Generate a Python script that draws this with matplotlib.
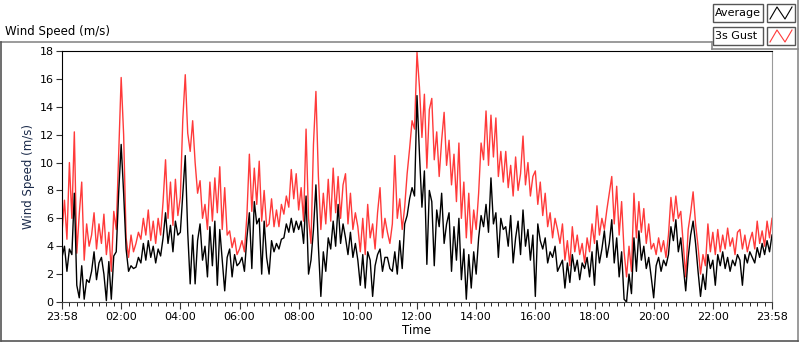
import numpy as np
import matplotlib
matplotlib.use("Agg")
import matplotlib.pyplot as plt
from matplotlib.lines import Line2D
from matplotlib.patches import Rectangle

# 5-minute readings, one row per hour (last row has the closing value)
gust = [
    5.0, 7.3, 4.5, 10.0, 6.0, 12.2, 3.5, 6.3, 8.6, 3.0, 5.6, 4.0,
    4.8, 6.4, 3.8, 5.6, 4.2, 6.3, 3.4, 5.0, 2.2, 6.5, 5.2, 10.6,
    16.1, 12.0, 4.6, 3.2, 4.8, 3.6, 4.2, 5.0, 4.5, 6.0, 4.8, 6.6,
    4.4, 5.8, 4.2, 6.0, 4.8, 7.2, 10.2, 6.0, 8.6, 5.5, 8.8, 6.2,
    7.5, 13.1, 16.3, 12.1, 10.8, 13.0, 10.0, 7.8, 8.7, 6.0, 7.0, 5.2,
    8.6, 5.8, 8.9, 6.4, 9.7, 5.2, 8.2, 4.8, 5.1, 3.9, 4.6, 3.4,
    3.8, 4.4, 3.6, 6.2, 10.6, 6.5, 9.6, 7.0, 10.1, 5.8, 8.0, 5.4,
    5.6, 7.4, 5.4, 6.6, 5.4, 7.0, 6.3, 7.6, 6.8, 9.5, 7.4, 9.2,
    6.6, 8.2, 5.8, 12.4, 6.0, 4.2, 11.3, 15.1, 9.0, 5.2, 7.8, 5.6,
    8.8, 5.8, 9.6, 6.4, 9.0, 6.0, 8.4, 9.2, 5.6, 7.8, 5.2, 6.4,
    5.4, 3.6, 6.0, 3.4, 7.0, 4.6, 5.6, 3.8, 6.4, 8.2, 4.6, 6.0,
    5.0, 4.2, 5.6, 10.5, 6.0, 7.4, 5.2, 6.8, 9.2, 11.0, 13.0, 12.4,
    17.9, 15.4, 11.8, 14.9, 9.6, 13.8, 14.6, 10.2, 12.2, 9.0, 11.6, 13.6,
    9.8, 11.6, 8.4, 10.6, 7.2, 11.4, 6.0, 8.6, 4.6, 7.8, 4.2, 6.6,
    5.2, 7.8, 11.4, 10.2, 13.7, 9.8, 13.4, 10.4, 13.2, 9.0, 10.8, 8.6,
    10.8, 8.2, 9.8, 7.6, 10.4, 8.0, 9.2, 11.9, 8.4, 10.0, 7.6, 9.0,
    9.4, 7.0, 8.6, 6.2, 7.8, 5.4, 6.4, 4.6, 6.0, 5.2, 4.2, 5.6,
    3.0, 4.4, 2.6, 5.4, 3.6, 4.8, 3.4, 4.2, 2.8, 4.6, 3.6, 5.6,
    4.2, 6.9, 4.8, 6.0, 5.2, 6.6, 7.8, 9.0, 5.6, 8.3, 4.8, 7.2,
    3.6, 1.8, 4.0, 2.2, 7.8, 4.6, 7.2, 5.0, 6.7, 4.2, 5.6, 3.8,
    4.2, 3.4, 4.6, 3.6, 4.4, 3.2, 4.8, 7.5, 5.8, 7.6, 6.0, 6.5,
    4.2, 1.8, 5.2, 6.4, 7.9, 5.6, 4.0, 2.0, 3.4, 2.6, 5.6, 3.6,
    5.0, 3.4, 5.2, 3.6, 4.8, 3.8, 5.3, 4.0, 4.6, 3.4, 5.0, 5.2,
    3.8, 4.8, 3.6, 4.4, 5.0, 3.8, 5.8, 4.2, 5.1, 4.0, 5.8, 4.6, 6.0,
]

average = [
    3.2, 4.0, 2.2, 3.8, 3.4, 7.8, 1.2, 0.3, 2.6, 0.2, 1.6, 1.4,
    2.2, 3.6, 1.6, 2.8, 3.2, 2.0, 0.1, 2.9, 0.2, 3.3, 3.6, 7.9,
    11.3, 7.8, 3.8, 2.2, 2.6, 2.4, 2.5, 3.2, 2.8, 4.2, 3.0, 4.4,
    3.2, 4.0, 2.8, 3.8, 3.3, 4.6, 6.4, 4.2, 5.5, 3.6, 5.8, 4.8,
    5.0, 7.8, 10.5, 5.0, 1.3, 4.8, 1.3, 4.4, 5.6, 3.0, 4.0, 1.8,
    5.4, 2.6, 5.8, 1.2, 5.2, 3.0, 0.8, 3.2, 3.8, 1.8, 3.4, 2.6,
    2.8, 3.2, 2.2, 4.6, 6.4, 2.4, 7.2, 5.6, 6.0, 2.0, 5.8, 3.2,
    2.0, 4.4, 3.6, 4.2, 3.8, 4.5, 4.6, 5.6, 5.0, 6.0, 5.0, 5.8,
    5.2, 5.8, 4.2, 7.6, 2.0, 3.0, 5.2, 8.4, 4.0, 0.4, 3.6, 2.2,
    4.6, 3.8, 5.8, 4.0, 7.0, 4.2, 5.6, 4.6, 3.4, 5.0, 3.2, 4.2,
    3.0, 1.2, 3.4, 1.0, 3.6, 3.0, 0.4, 2.6, 3.4, 3.8, 2.2, 3.2,
    3.2, 2.4, 2.2, 3.6, 2.0, 4.4, 2.4, 5.6, 6.2, 7.4, 8.2, 7.6,
    14.8, 10.6, 6.8, 9.4, 2.7, 8.0, 7.2, 2.6, 6.6, 5.4, 7.8, 4.2,
    5.6, 6.4, 2.2, 5.4, 3.0, 6.0, 1.6, 3.8, 0.2, 3.4, 1.0, 3.6,
    2.0, 4.6, 6.2, 5.4, 7.0, 5.0, 8.9, 5.6, 6.4, 3.2, 6.0, 5.2,
    5.4, 4.0, 6.2, 2.8, 4.6, 5.8, 3.4, 6.6, 4.0, 5.2, 3.0, 4.8,
    0.4, 5.6, 4.4, 3.8, 4.6, 2.8, 3.6, 3.2, 4.0, 2.2, 2.6, 3.0,
    1.0, 2.8, 1.4, 3.4, 2.2, 3.0, 1.6, 2.8, 2.4, 3.2, 1.8, 3.6,
    1.2, 4.4, 2.8, 3.8, 5.1, 3.2, 4.2, 5.9, 2.8, 4.6, 1.8, 3.6,
    0.2, 0.0, 2.0, 0.6, 4.6, 2.2, 5.1, 3.0, 4.0, 2.4, 3.2, 1.8,
    0.3, 2.6, 3.2, 2.2, 3.0, 2.6, 3.4, 5.4, 4.4, 5.9, 3.6, 4.6,
    2.6, 0.8, 3.2, 4.8, 5.8, 4.2, 2.2, 0.4, 2.0, 0.9, 3.4, 2.4,
    3.0, 1.2, 3.4, 2.6, 3.6, 2.4, 3.2, 2.2, 3.0, 2.6, 3.4, 3.0,
    1.2, 3.4, 2.8, 3.6, 3.2, 2.8, 3.9, 3.2, 4.2, 3.4, 4.4, 3.6, 4.8,
]

tick_labels = ["23:58", "02:00", "04:00", "06:00", "08:00", "10:00", "12:00",
               "14:00", "16:00", "18:00", "20:00", "22:00", "23:58"]

W, H = 800, 342
hours = np.arange(len(gust)) * 5 / 60.0

fig = plt.figure(figsize=(W / 100, H / 100), dpi=100)
plt.rcParams['font.family'] = 'DejaVu Sans'


def fx(x):
    return x / W


def fy(y):
    return 1 - y / H


# outer panel frame (LabVIEW style)
frame_col = '#8a8a8a'
fig.add_artist(Line2D([fx(0.5), fx(712)], [fy(42), fy(42)], color=frame_col, lw=1.2))
fig.add_artist(Line2D([fx(712), fx(712)], [fy(42), fy(49)], color=frame_col, lw=1.2))
fig.add_artist(Line2D([fx(712), fx(798)], [fy(49), fy(49)], color=frame_col, lw=1.2))
fig.add_artist(Line2D([fx(798), fx(798)], [fy(0), fy(341)], color=frame_col, lw=1.2))
fig.add_artist(Line2D([fx(0.5), fx(0.5)], [fy(42), fy(341)], color='#555555', lw=1.2))
fig.add_artist(Line2D([fx(0.5), fx(798)], [fy(341), fy(341)], color='#555555', lw=1.2))

fig.text(fx(5), fy(32), "Wind Speed (m/s)", fontsize=8.5, va='center', ha='left')

ax = fig.add_axes([fx(62), fy(302), fx(772) - fx(62), fy(51) - fy(302)])
ax.plot(hours, gust, color='#ff3a3a', lw=1.0)
ax.plot(hours, average, color='black', lw=1.0)

ax.set_xlim(0, 24)
ax.set_ylim(0, 18)
ax.set_yticks(np.arange(0, 19, 2))
ax.set_xticks(np.arange(0, 25, 2))
ax.set_xticklabels(tick_labels)
ax.set_xticks(np.arange(0, 24.01, 0.25), minor=True)
ax.tick_params(axis='both', labelsize=8, direction='out', color='#333333')
ax.tick_params(axis='x', which='major', length=5, pad=2)
ax.tick_params(axis='x', which='minor', length=3)
ax.tick_params(axis='y', length=4, pad=2)
ax.spines['right'].set_color('#9a9a9a')
ax.spines['bottom'].set_color('#444444')
ax.set_xlabel("Time", fontsize=8.5, labelpad=2)
ax.set_ylabel("Wind Speed (m/s)", fontsize=8.5, color='#1a2a4a', labelpad=3)

# legend boxes
for y0, name, col in [(4, "Average", 'black'), (27, "3s Gust", '#ff3a3a')]:
    fig.add_artist(Rectangle((fx(713), fy(y0 + 18)), fx(50), fy(y0) - fy(y0 + 18),
                             transform=fig.transFigure, fc='white', ec='#555555', lw=1))
    fig.text(fx(715), fy(y0 + 9), name, fontsize=8, va='center', ha='left')
    fig.add_artist(Rectangle((fx(767), fy(y0 + 18)), fx(28), fy(y0) - fy(y0 + 18),
                             transform=fig.transFigure, fc='white', ec='#555555', lw=1))
    zx = [fx(770), fx(777), fx(785), fx(792)]
    zy = [fy(y0 + 15), fy(y0 + 3), fy(y0 + 15), fy(y0 + 3)]
    fig.add_artist(Line2D(zx, zy, color=col, lw=0.8))

fig.savefig("out.png", dpi=100)
